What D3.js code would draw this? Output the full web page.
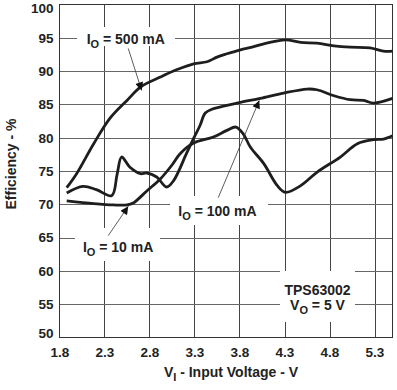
<!DOCTYPE html>
<html>
<head>
<meta charset="utf-8">
<script src="https://cdn.jsdelivr.net/npm/d3@7"></script>
<style>
  body { margin: 0; background: #fff; }
  text { font-family: "Liberation Sans", Arial, sans-serif; font-weight: bold; fill: #222; }
</style>
</head>
<body>
<div id="chart"></div>
<script>
// efficiency curves
var vin500 = [1.88, 1.99, 2.18, 2.36, 2.55, 2.70, 2.92, 3.10, 3.29, 3.44, 3.55, 3.66, 3.81, 3.94, 4.10, 4.31, 4.48, 4.66, 4.85, 5.03, 5.25, 5.40, 5.50];
var eff500 = [72.5, 74.6, 79.1, 82.9, 85.6, 87.6, 89.1, 90.2, 91.1, 91.4, 92.1, 92.6, 93.2, 93.6, 94.2, 94.7, 94.3, 94.2, 93.8, 93.6, 93.5, 93.0, 93.0];

var vin100 = [1.88, 2.06, 2.21, 2.38, 2.44, 2.49, 2.58, 2.70, 2.77, 2.88, 2.99, 3.07, 3.21, 3.29, 3.36, 3.42, 3.50, 3.58, 3.81, 4.03, 4.29, 4.55, 4.66, 4.85, 5.03, 5.18, 5.29, 5.50];
var eff100 = [71.7, 72.7, 72.2, 71.3, 74.5, 77.1, 75.6, 74.6, 74.7, 74.1, 72.6, 73.6, 77.6, 79.9, 81.8, 83.7, 84.3, 84.6, 85.3, 85.9, 86.7, 87.3, 87.2, 86.3, 85.7, 85.6, 85.2, 85.9];

var vin10 = [1.88, 2.18, 2.40, 2.55, 2.62, 2.77, 2.92, 3.05, 3.14, 3.29, 3.51, 3.66, 3.76, 3.84, 3.92, 4.07, 4.22, 4.31, 4.48, 4.66, 4.92, 5.11, 5.29, 5.40, 5.50];
var eff10 = [70.5, 70.1, 69.9, 69.9, 70.2, 72.0, 73.8, 75.9, 77.6, 79.2, 80.1, 81.1, 81.6, 80.6, 78.6, 76.1, 72.8, 71.8, 72.8, 74.8, 77.1, 79.1, 79.7, 79.8, 80.3];

var xTicks = [1.8, 2.3, 2.8, 3.3, 3.8, 4.3, 4.8, 5.3];
var yTicks = [50, 55, 60, 65, 70, 75, 80, 85, 90, 95, 100];

var W = 397, H = 390;
var pLeft = 59.5, pRight = 392.5, pTop = 4.5, pBottom = 337.5;

var svg = d3.select("#chart").append("svg")
    .attr("width", W)
    .attr("height", H);

var x = d3.scaleLinear().domain([1.8, 5.5]).range([pLeft, pRight]);
var y = d3.scaleLinear().domain([50, 100]).range([pBottom, pTop]);

// grid
svg.append("g").selectAll("line.v")
    .data(xTicks.slice(1))
    .enter().append("line")
    .attr("x1", d => Math.round(x(d)) + 0.5).attr("x2", d => Math.round(x(d)) + 0.5)
    .attr("y1", pTop).attr("y2", pBottom)
    .attr("stroke", "#444").attr("stroke-width", 1);
svg.append("g").selectAll("line.h")
    .data(yTicks.slice(1, -1))
    .enter().append("line")
    .attr("x1", pLeft).attr("x2", pRight)
    .attr("y1", d => Math.round(y(d)) + 0.5).attr("y2", d => Math.round(y(d)) + 0.5)
    .attr("stroke", "#666").attr("stroke-width", 1);

// white boxes behind the annotations
var boxes = [
    {x0: 77, x1: 175, y0: 27, y1: 46},
    {x0: 170, x1: 268, y0: 196, y1: 225},
    {x0: 75, x1: 160, y0: 228, y1: 261},
    {x0: 280, x1: 355, y0: 271, y1: 322}
];
svg.append("g").selectAll("rect")
    .data(boxes)
    .enter().append("rect")
    .attr("x", d => d.x0).attr("y", d => d.y0)
    .attr("width", d => d.x1 - d.x0).attr("height", d => d.y1 - d.y0)
    .attr("fill", "#fff");

// frame
svg.append("rect")
    .attr("x", pLeft).attr("y", pTop)
    .attr("width", pRight - pLeft).attr("height", pBottom - pTop)
    .attr("fill", "none").attr("stroke", "#333").attr("stroke-width", 1);

// axes (labels only)
var xAxis = svg.append("g")
    .attr("transform", "translate(0," + pBottom + ")")
    .call(d3.axisBottom(x).tickValues(xTicks).tickSize(0).tickPadding(10).tickFormat(d3.format(".1f")));
xAxis.select(".domain").remove();
xAxis.selectAll("text").style("font-size", "13.5px").attr("fill", "#222");

var yAxis = svg.append("g")
    .attr("transform", "translate(" + (pLeft - 6) + ",0)")
    .call(d3.axisLeft(y).tickValues(yTicks).tickSize(0).tickPadding(0));
yAxis.select(".domain").remove();
yAxis.selectAll("text").style("font-size", "13.5px").attr("fill", "#222");
yAxis.selectAll("text").filter(d => d == 100).attr("dy", "0.6em");
yAxis.selectAll("text").filter(d => d == 50).attr("dy", "0.0em");

// curves
var line = d3.line()
    .x(d => x(d[0]))
    .y(d => y(d[1]))
    .curve(d3.curveCatmullRom.alpha(0.5));

[[vin500, eff500], [vin100, eff100], [vin10, eff10]].forEach(function (s) {
    svg.append("path")
        .datum(d3.zip(s[0], s[1]))
        .attr("d", line)
        .attr("fill", "none")
        .attr("stroke", "#1e1e1e")
        .attr("stroke-width", 2.8)
        .attr("stroke-linejoin", "round");
});

// arrows
svg.append("defs").append("marker")
    .attr("id", "ah")
    .attr("viewBox", "0 0 10 10")
    .attr("refX", 10).attr("refY", 5)
    .attr("markerWidth", 10).attr("markerHeight", 8)
    .attr("markerUnits", "userSpaceOnUse")
    .attr("orient", "auto")
    .append("path").attr("d", "M0,0L10,5L0,10z").attr("fill", "#111");

var arrows = [
    {v0: 2.564, e0: 93.4, v1: 2.713, e1: 87.1},
    {v0: 3.564, e0: 71.0, v1: 4.02, e1: 85.6},
    {v0: 2.342, e0: 65.3, v1: 2.564, e1: 69.7}
];
svg.append("g").selectAll("line")
    .data(arrows)
    .enter().append("line")
    .attr("x1", d => x(d.v0)).attr("y1", d => y(d.e0))
    .attr("x2", d => x(d.v1)).attr("y2", d => y(d.e1))
    .attr("stroke", "#333").attr("stroke-width", 0.8)
    .attr("marker-end", "url(#ah)");

// current labels
var labels = [
    {v: 2.102, e: 94.1, t: " = 500 mA"},
    {v: 3.12, e: 68.2, t: " = 100 mA"},
    {v: 2.06, e: 62.9, t: " = 10 mA"}
];
labels.forEach(function (l) {
    var t = svg.append("text")
        .attr("x", x(l.v)).attr("y", y(l.e))
        .style("font-size", "14px");
    t.append("tspan").text("I");
    t.append("tspan").attr("dy", 4).style("font-size", "11px").text("O");
    t.append("tspan").attr("dy", -4).text(l.t);
});

// device note
svg.append("text")
    .attr("x", 317.5).attr("y", 295)
    .attr("text-anchor", "middle")
    .style("font-size", "14px")
    .text("TPS63002");
var vo = svg.append("text")
    .attr("x", 317.5).attr("y", 310)
    .attr("text-anchor", "middle")
    .style("font-size", "14px");
vo.append("tspan").text("V");
vo.append("tspan").attr("dy", 4).style("font-size", "11px").text("O");
vo.append("tspan").attr("dy", -4).text(" = 5 V");

// axis titles
var xt = svg.append("text")
    .attr("x", 231).attr("y", 377)
    .attr("text-anchor", "middle")
    .style("font-size", "14px");
xt.append("tspan").text("V");
xt.append("tspan").attr("dy", 4).style("font-size", "11px").text("I");
xt.append("tspan").attr("dy", -4).text(" - Input Voltage - V");

svg.append("text")
    .attr("transform", "translate(16,164) rotate(-90)")
    .attr("text-anchor", "middle")
    .style("font-size", "14px")
    .text("Efficiency - %");
</script>
</body>
</html>
